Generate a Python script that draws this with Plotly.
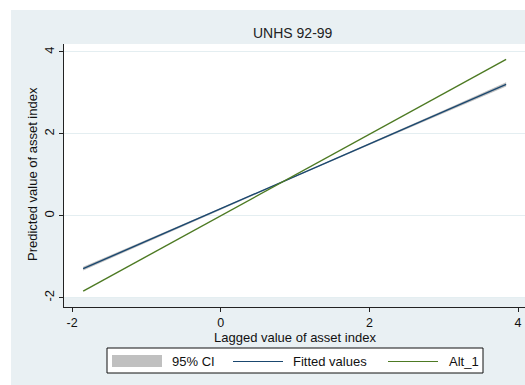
import plotly.graph_objects as go

# Lagged asset index grid and the linear fit with its 95% confidence band
lag_x = [-1.85, -1.0, 0.0, 1.0, 2.0, 3.0, 3.84]
fitted = [-1.29, -0.62, 0.17, 0.96, 1.75, 2.54, 3.21]
ci_lo = [-1.335, -0.65, 0.152, 0.948, 1.73, 2.505, 3.16]
ci_hi = [-1.245, -0.59, 0.188, 0.972, 1.77, 2.575, 3.26]

# Alternative (45-degree) reference line
alt_x = [-1.85, 3.84]
alt_y = [-1.84, 3.82]

x_ticks = [-2, 0, 2, 4]
y_ticks = [-2, 0, 2, 4]
tick_labels = ["-2", "0", "2", "4"]

series_names = ["95% CI", "Fitted values", "Alt_1"]

W, H = 525, 385
BG = "#e9f0f3"
GRID = "#e4eef1"
NAVY = "#1a476f"
GREEN = "#4d7a23"
CI_FILL = "rgba(150,150,150,0.6)"
CI_KEY = "#c0c0c0"
INK = "#111111"
FONT = "Liberation Sans, Arial, sans-serif"


def px(x):
    return x / W


def py(y):
    return (H - y) / H


fig = go.Figure()

fig.add_trace(go.Scatter(x=lag_x, y=ci_lo, mode="lines", line=dict(width=0),
                         showlegend=False, hoverinfo="skip"))
fig.add_trace(go.Scatter(x=lag_x, y=ci_hi, mode="lines", line=dict(width=0),
                         fill="tonexty", fillcolor=CI_FILL,
                         name=series_names[0], showlegend=False))
fig.add_trace(go.Scatter(x=lag_x, y=fitted, mode="lines",
                         line=dict(color=NAVY, width=1.4),
                         name=series_names[1], showlegend=False))
fig.add_trace(go.Scatter(x=alt_x, y=alt_y, mode="lines",
                         line=dict(color=GREEN, width=1.4),
                         name=series_names[2], showlegend=False))

x_rng = [-2.108, 4.094]
y_rng = [-2.227, 4.195]

shapes = [
    # graph region
    dict(type="rect", xref="paper", yref="paper", x0=px(11), x1=1,
         y0=0, y1=py(10), fillcolor=BG, line=dict(width=0), layer="below"),
    # white inner plot region
    dict(type="rect", xref="x domain", yref="y", x0=0, x1=1,
         y0=-2, y1=y_rng[1], fillcolor="white", line=dict(width=0),
         layer="below"),
    # legend frame and keys
    dict(type="rect", xref="paper", yref="paper", x0=px(107), x1=px(483),
         y0=py(373), y1=py(348), fillcolor="white",
         line=dict(color=INK, width=1), layer="above"),
    dict(type="rect", xref="paper", yref="paper", x0=px(112), x1=px(162),
         y0=py(367), y1=py(355), fillcolor=CI_KEY, line=dict(width=0),
         layer="above"),
    dict(type="line", xref="paper", yref="paper", x0=px(233), x1=px(283),
         y0=py(361.5), y1=py(361.5), line=dict(color=NAVY, width=1.2),
         layer="above"),
    dict(type="line", xref="paper", yref="paper", x0=px(388), x1=px(438),
         y0=py(361.5), y1=py(361.5), line=dict(color=GREEN, width=1.2),
         layer="above"),
]

legend_text = [(170, series_names[0]), (291, series_names[1]),
               (447, series_names[2])]

annotations = [
    dict(text="UNHS 92-99", xref="paper", yref="paper",
         x=px(293), y=py(33), xanchor="center", yanchor="middle",
         showarrow=False, font=dict(size=14, color="#222222")),
    dict(text="Lagged value of asset index", xref="paper", yref="paper",
         x=px(294.5), y=py(337), xanchor="center", yanchor="middle",
         showarrow=False, font=dict(size=13)),
    dict(text="Predicted value of asset index", xref="paper", yref="paper",
         x=px(32), y=py(174), xanchor="center", yanchor="middle",
         textangle=-90, showarrow=False, font=dict(size=13)),
]
for lx, name in legend_text:
    annotations.append(dict(text=name, xref="paper", yref="paper",
                            x=px(lx), y=py(361), xanchor="left",
                            yanchor="middle", showarrow=False,
                            font=dict(size=13)))

fig.update_layout(
    width=W, height=H,
    margin=dict(l=0, r=0, t=0, b=0),
    paper_bgcolor="white",
    plot_bgcolor=BG,
    font=dict(family=FONT, size=12, color=INK),
    showlegend=False,
    xaxis=dict(domain=[px(64), 1.0], range=x_rng, tickvals=x_ticks,
               ticktext=tick_labels,
               showgrid=False, zeroline=False, showline=True,
               linecolor="#222222", linewidth=1, ticks="outside", ticklen=4,
               tickcolor="#222222", tickfont=dict(size=12.5)),
    yaxis=dict(domain=[py(307), py(44)], range=y_rng,
               tickvals=y_ticks, ticktext=tick_labels,
               showgrid=True, gridcolor=GRID, gridwidth=1,
               zeroline=False, showline=True, linecolor="#222222", linewidth=1,
               ticks="outside", ticklen=4, tickcolor="#222222", tickangle=-90,
               tickfont=dict(size=13)),
    shapes=shapes,
    annotations=annotations,
)

fig.write_html("out.html")
